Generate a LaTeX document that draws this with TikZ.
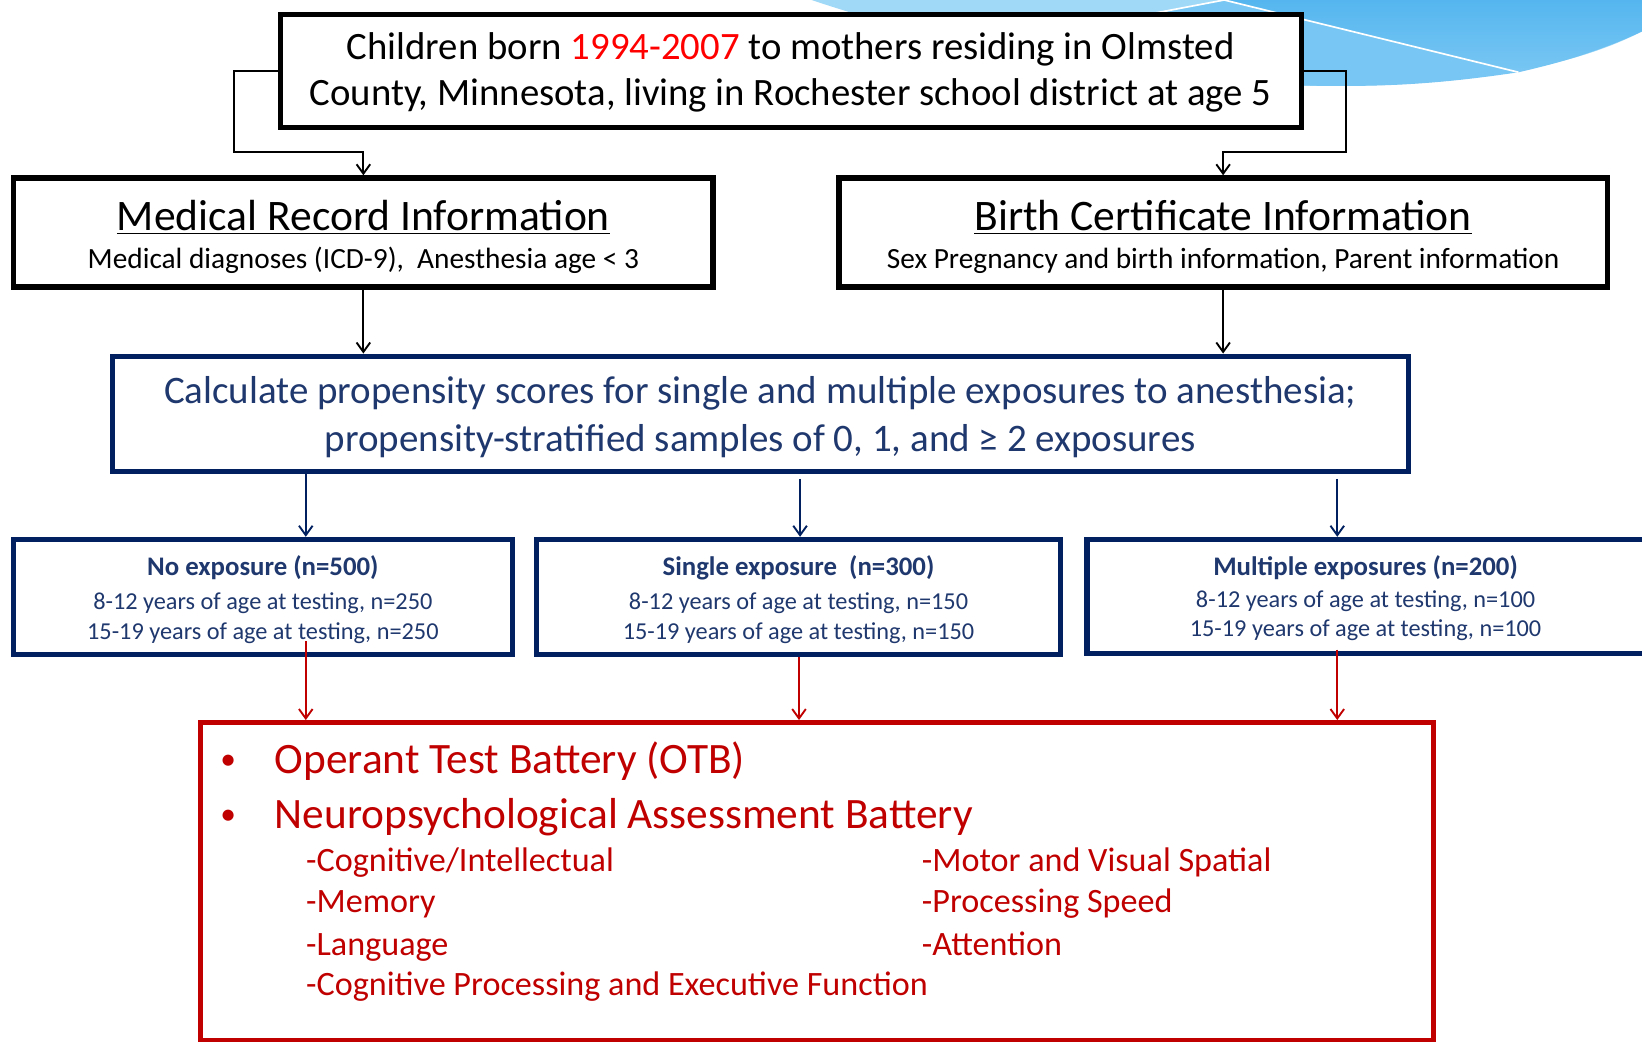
\documentclass[tikz,border=0pt]{standalone}
\usepackage{fontspec}
\setmainfont{Carlito}
\usetikzlibrary{arrows.meta,calc}
\definecolor{navy}{RGB}{0,32,96}
\definecolor{navytxt}{RGB}{31,56,110}
\definecolor{dred}{RGB}{192,0,0}
\definecolor{bred}{RGB}{255,0,0}
\definecolor{swa}{RGB}{160,216,247}
\definecolor{swb}{RGB}{120,198,243}
\definecolor{swc}{RGB}{85,182,239}
\newcommand\fsz[1]{\fontsize{#1}{#1}\selectfont}
\begin{document}
\begin{tikzpicture}[x=0.5pt,y=-0.5pt,
  blackbox/.style={draw=black,line width=2.6pt,fill=white,inner sep=0pt},
  navybox/.style={draw=navy,line width=2.4pt,fill=white,inner sep=0pt},
  redbox/.style={draw=dred,line width=2.4pt,fill=white,inner sep=0pt},
  txt/.style={inner sep=0pt,anchor=base},
  ltxt/.style={inner sep=0pt,anchor=base west},
  tip/.style={-{Straight Barb[length=4.5pt,width=6.5pt,line width=0.9pt]}},
  blkconn/.style={tip,draw=black,line width=0.9pt},
  navyconn/.style={tip,draw=navy,line width=0.9pt},
  redconn/.style={tip,draw=dred,line width=0.9pt}]
\useasboundingbox (0,0) rectangle (1568,995);
\clip (0,0) rectangle (1568,995);
\fill[white] (0,0) rectangle (1568,995);
% decorative swoosh
\fill[swa] (775,0) .. controls (930,52) and (1120,84) .. (1289,82)
  .. controls (1420,80) and (1510,60) .. (1568,30) -- (1568,0) -- cycle;
\fill[swb] (960,42) -- (1169,0) -- (1450,69) .. controls (1390,78) and (1340,82) .. (1289,82)
  .. controls (1170,83) and (1060,68) .. (960,42) -- cycle;
\shade[top color=swc,bottom color=swb] (1169,0) -- (1568,0) -- (1568,30)
  .. controls (1530,48) and (1490,60) .. (1450,69) -- cycle;
\draw[white,line width=0.8pt] (1005,31) -- (1169,0) -- (1450,69);
% boxes
\node[blackbox,minimum width=487.5pt,minimum height=54pt] (top) at (755.5,68) {};
\node[blackbox,minimum width=334pt,minimum height=52pt] (med) at (347,222) {};
\node[blackbox,minimum width=367pt,minimum height=52pt] (birth) at (1168,222) {};
\node[navybox,minimum width=619pt,minimum height=55pt] (calc) at (726,395) {};
\node[navybox,minimum width=238pt,minimum height=55pt] (none) at (251,570) {};
\node[navybox,minimum width=250.5pt,minimum height=55pt] (single) at (762.5,570) {};
\node[navybox,minimum width=281pt,minimum height=54.5pt] (multi) at (1319,569.5) {};
\node[redbox,minimum width=589pt,minimum height=152pt] (red) at (780,842) {};
% connectors
\draw[blkconn] (top.west) -- ++(-42,0) |- ($(med.north)+(0,-22)$) -- (med.north);
\draw[blkconn] (top.east) -- ++(40,0) |- ($(birth.north)+(0,-22)$) -- (birth.north);
\draw[blkconn] (med.south) -- (calc.north -| med.south);
\draw[blkconn] (birth.south) -- (calc.north -| birth.south);
\draw[navyconn] (calc.south -| 292,0) -- (none.north -| 292,0);
\draw[navyconn] ($(calc.south -| 764,0)+(0,5)$) -- (single.north -| 764,0);
\draw[navyconn] ($(calc.south -| 1277,0)+(0,5)$) -- (multi.north -| 1277,0);
\draw[redconn] ($(none.south -| 292,0)+(0,-15)$) -- (red.north -| 292,0);
\draw[redconn] (single.south -| 763,0) -- (red.north -| 763,0);
\draw[redconn] ($(multi.south -| 1277,0)+(0,-6)$) -- (red.north -| 1277,0);
% texts
\node[txt,font=\fsz{18.5}] (t1) at (755,57) {Children born \textcolor{bred}{1994-2007} to mothers residing in Olmsted};
\node[txt,font=\fsz{18.5}] (t2) at (755,101) {County, Minnesota, living in Rochester school district at age 5};
\node[txt,font=\fsz{20.8}] (medt) at (347,220) {\underline{Medical Record Information}};
\node[txt,font=\fsz{14}] (meds) at (347,256) {Medical diagnoses (ICD-9),\ \ Anesthesia age < 3};
\node[txt,font=\fsz{20.8}] (birtht) at (1168,220) {\underline{Birth Certificate Information}};
\node[txt,font=\fsz{14}] (births) at (1168,256) {Sex Pregnancy and birth information, Parent information};
\node[txt,font=\fsz{18.6},text=navytxt] (c1) at (726,385) {Calculate propensity scores for single and multiple exposures to anesthesia;};
\node[txt,font=\fsz{18.6},text=navytxt] (c2) at (726,431) {propensity-stratified samples of 0, 1, and ≥ 2 exposures};
\node[txt,font=\fsz{12.8}\bfseries,text=navytxt] (n0) at (251,550) {No exposure (n=500)};
\node[txt,font=\fsz{11.6},text=navytxt] (n1) at (251,582) {8-12 years of age at testing, n=250};
\node[txt,font=\fsz{11.6},text=navytxt] (n2) at (251,611) {15-19 years of age at testing, n=250};
\node[txt,font=\fsz{12.8}\bfseries,text=navytxt] (s0) at (762.5,550) {Single exposure\ \ (n=300)};
\node[txt,font=\fsz{11.6},text=navytxt] (s1) at (762.5,582) {8-12 years of age at testing, n=150};
\node[txt,font=\fsz{11.6},text=navytxt] (s2) at (762.5,611) {15-19 years of age at testing, n=150};
\node[txt,font=\fsz{12.8}\bfseries,text=navytxt] (m0) at (1304,550) {Multiple exposures (n=200)};
\node[txt,font=\fsz{11.6},text=navytxt] (m1) at (1304,580) {8-12 years of age at testing, n=100};
\node[txt,font=\fsz{11.6},text=navytxt] (m2) at (1304,608) {15-19 years of age at testing, n=100};
\node[ltxt,font=\fsz{15},text=dred] (b1) at (210,735) {•};
\node[ltxt,font=\fsz{20.7},text=dred] (r1) at (262,739) {Operant Test Battery (OTB)};
\node[ltxt,font=\fsz{15},text=dred] (b2) at (210,787) {•};
\node[ltxt,font=\fsz{20.7},text=dred] (r2) at (262,791) {Neuropsychological Assessment Battery};
\node[ltxt,font=\fsz{16.3},text=dred] (a1) at (292,832) {-Cognitive/Intellectual};
\node[ltxt,font=\fsz{16.3},text=dred] (a2) at (292,871) {-Memory};
\node[ltxt,font=\fsz{16.3},text=dred] (a3) at (292,912) {-Language};
\node[ltxt,font=\fsz{16.3},text=dred] (a4) at (292,951) {-Cognitive Processing and Executive Function};
\node[ltxt,font=\fsz{16.3},text=dred] (d1) at (880,832) {-Motor and Visual Spatial};
\node[ltxt,font=\fsz{16.3},text=dred] (d2) at (880,871) {-Processing Speed};
\node[ltxt,font=\fsz{16.3},text=dred] (d3) at (880,912) {-Attention};
\end{tikzpicture}
\end{document}
